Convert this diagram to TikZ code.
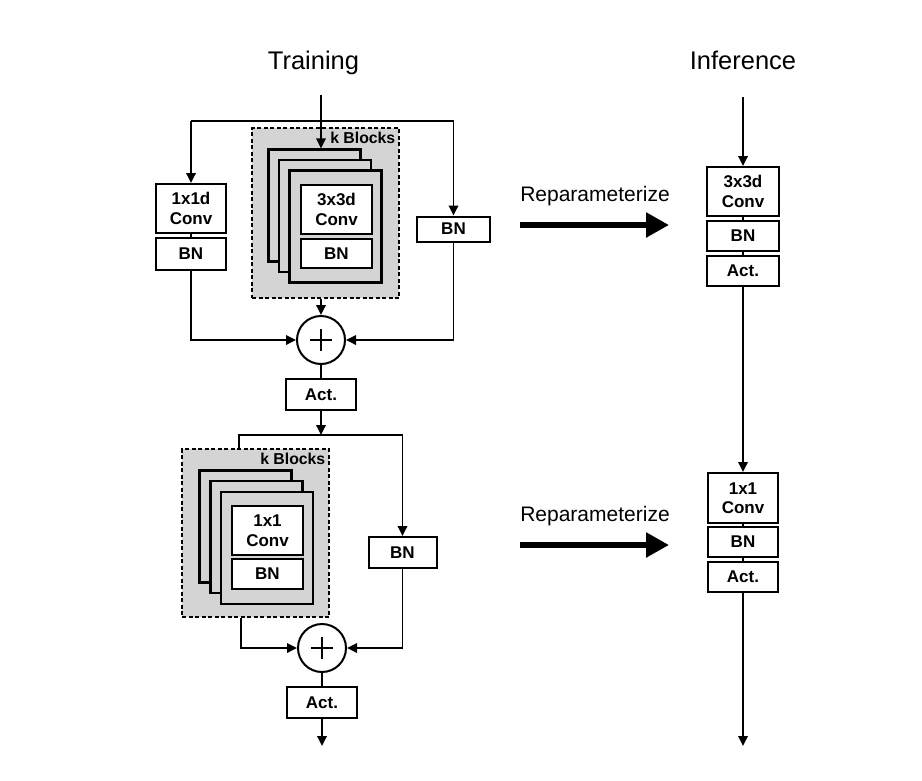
\documentclass[tikz,border=0pt]{standalone}
\usepackage{fontspec}
\setmainfont{Liberation Sans}
\usetikzlibrary{arrows.meta}
\definecolor{blockgray}{RGB}{212,212,212}
\begin{document}
\begin{tikzpicture}[x=1pt,y=-1pt,
  box/.style={draw, line width=2pt, fill=white, align=center, inner sep=0pt,
    font=\bfseries\fontsize{17}{19.5}\selectfont},
  stackbox/.style={draw, line width=2.3pt, fill=blockgray, inner sep=0pt,
    minimum width=92pt, minimum height=112pt},
  dashbox/.style={draw, line width=1.8pt, fill=blockgray, dash pattern=on 4pt off 2.5pt,
    inner sep=0pt},
  conn/.style={line width=1.8pt},
  arr/.style={line width=1.8pt, -{Triangle[length=10pt,width=9.5pt]}},
  bigarr/.style={line width=5.5pt, -{Triangle[length=23pt,width=24pt]}},
  summ/.style={circle, draw, line width=2pt, fill=white, minimum size=48pt, inner sep=0pt},
  title/.style={anchor=base, font=\fontsize{25.5}{30}\selectfont},
  rep/.style={anchor=base, font=\fontsize{21}{25}\selectfont},
  kbl/.style={anchor=base east, inner sep=0pt, font=\bfseries\fontsize{15.8}{19}\selectfont}
]
\useasboundingbox (0,0) rectangle (922,780);

% titles
\node[title] (ttrain) at (313.5,69) {Training};
\node[title] (tinf) at (743,69) {Inference};

% ---------- Training, upper block ----------
\node[dashbox, minimum width=147pt, minimum height=170pt] (d1) at (325.5,213) {};
\node[kbl] (kb1) at (395.5,143) {k Blocks};
\node[stackbox] (s1a) at (314.5,205.5) {};
\node[stackbox] (s1b) at (325,216) {};
\node[stackbox] (s1c) at (335.5,226.5) {};
\node[box, minimum width=71pt, minimum height=49pt] (conv1) at (336.5,209.5) {3x3d\\Conv};
\node[box, minimum width=71pt, minimum height=29pt] (bn1) at (336.5,253.5) {BN};

\node[box, minimum width=70pt, minimum height=49pt] (c1) at (191,208.5) {1x1d\\Conv};
\node[box, minimum width=70pt, minimum height=32pt] (bnL) at (191,254) {BN};
\draw[conn] (c1.south) -- (bnL.north);

\node[box, minimum width=73pt, minimum height=25pt] (rbn1) at (453.5,229) {BN};

\coordinate (in1) at (321,95);
\coordinate (b1) at (321,121);
\draw[arr] (in1) -- (in1 |- s1a.north);
\draw[conn] (c1.north |- b1) -- (rbn1.north |- b1);
\draw[arr] (c1.north |- b1) -- (c1.north);
\draw[arr] (rbn1.north |- b1) -- (rbn1.north);

\node[summ] (p1) at (321,340) {};
\draw[line width=1.8pt] ([xshift=-11pt]p1.center) -- ([xshift=11pt]p1.center);
\draw[line width=1.8pt] ([yshift=-11pt]p1.center) -- ([yshift=11pt]p1.center);

\draw[arr] (p1.north |- d1.south) -- (p1.north);
\draw[arr] (bnL.south) |- (p1.west);
\draw[arr] (rbn1.south) |- (p1.east);

\node[box, minimum width=70pt, minimum height=31pt] (act1) at (321,394.5) {Act.};
\draw[conn] (p1.south) -- (act1.north);

% ---------- Training, lower block ----------
\node[dashbox, minimum width=147pt, minimum height=168pt] (d2) at (255.5,533) {};
\node[kbl] (kb2) at (325.5,464) {k Blocks};
\node[stackbox] (s2a) at (245.5,526.5) {};
\node[stackbox] (s2b) at (256.5,537) {};
\node[stackbox] (s2c) at (267,548) {};
\node[box, minimum width=71pt, minimum height=49pt] (conv2) at (267.5,530.5) {1x1\\Conv};
\node[box, minimum width=71pt, minimum height=30pt] (bn2) at (267.5,574) {BN};

\node[box, minimum width=68pt, minimum height=31pt] (rbn2) at (402.5,552.5) {BN};

\coordinate (b2) at (321,435);
\coordinate (bl2) at (239,435);
\draw[arr] (act1.south) -- (b2);
\draw[conn] (bl2 |- d2.north) -- (bl2) -- (rbn2.north |- bl2);
\draw[arr] (rbn2.north |- bl2) -- (rbn2.north);

\node[summ] (p2) at (322,648) {};
\draw[line width=1.8pt] ([xshift=-11pt]p2.center) -- ([xshift=11pt]p2.center);
\draw[line width=1.8pt] ([yshift=-11pt]p2.center) -- ([yshift=11pt]p2.center);

\draw[arr] ([xshift=-14.5pt]d2.south) |- (p2.west);
\draw[arr] (rbn2.south) |- (p2.east);

\node[box, minimum width=70pt, minimum height=31pt] (act2) at (322,702.5) {Act.};
\draw[conn] (p2.south) -- (act2.north);
\coordinate (out2) at (322,746);
\draw[arr] (act2.south) -- (out2);

% ---------- Reparameterize arrows ----------
\node[rep] (rp1) at (595,201) {Reparameterize};
\coordinate (ra1) at (520,225);
\coordinate (rb1) at (669,225);
\draw[bigarr] (ra1) -- (rb1);

\node[rep] (rp2) at (595,521) {Reparameterize};
\coordinate (ra2) at (520,545);
\coordinate (rb2) at (669,545);
\draw[bigarr] (ra2) -- (rb2);

% ---------- Inference ----------
\coordinate (iin) at (743,97);
\node[box, minimum width=72pt, minimum height=49pt] (i3) at (743,191.5) {3x3d\\Conv};
\node[box, minimum width=72pt, minimum height=30pt] (ibn1) at (743,236) {BN};
\node[box, minimum width=72pt, minimum height=30pt] (iact1) at (743,271) {Act.};
\draw[arr] (iin) -- (i3.north);
\draw[conn] (i3.south) -- (ibn1.north);
\draw[conn] (ibn1.south) -- (iact1.north);

\node[box, minimum width=70pt, minimum height=50pt] (i1) at (743,498) {1x1\\Conv};
\node[box, minimum width=70pt, minimum height=30pt] (ibn2) at (743,542) {BN};
\node[box, minimum width=70pt, minimum height=30pt] (iact2) at (743,577) {Act.};
\draw[arr] (iact1.south) -- (i1.north);
\draw[conn] (i1.south) -- (ibn2.north);
\draw[conn] (ibn2.south) -- (iact2.north);
\coordinate (iout) at (743,746);
\draw[arr] (iact2.south) -- (iout);
\end{tikzpicture}
\end{document}
